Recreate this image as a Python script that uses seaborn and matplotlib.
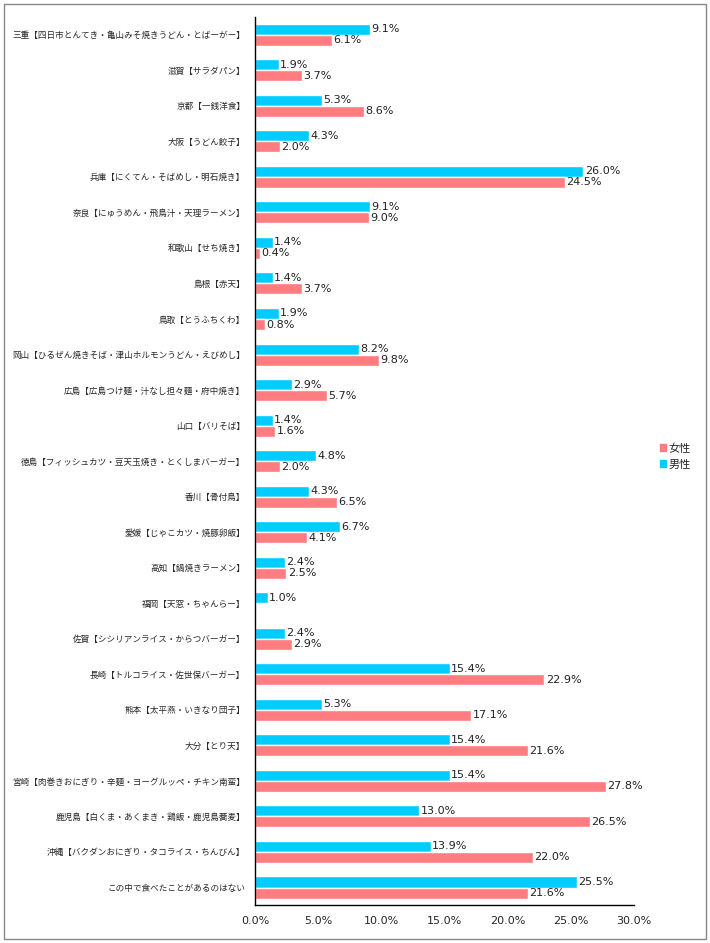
import matplotlib
matplotlib.use("Agg")
import matplotlib.pyplot as plt
from matplotlib.patches import Rectangle, Patch
import seaborn as sns
import pandas as pd

categories = [
    "三重【四日市とんてき・亀山みそ焼きうどん・とばーがー】",
    "滋賀【サラダパン】",
    "京都【一銭洋食】",
    "大阪【うどん餃子】",
    "兵庫【にくてん・そばめし・明石焼き】",
    "奈良【にゅうめん・飛鳥汁・天理ラーメン】",
    "和歌山【せち焼き】",
    "島根【赤天】",
    "鳥取【とうふちくわ】",
    "岡山【ひるぜん焼きそば・津山ホルモンうどん・えびめし】",
    "広島【広島つけ麺・汁なし担々麺・府中焼き】",
    "山口【バリそば】",
    "徳島【フィッシュカツ・豆天玉焼き・とくしまバーガー】",
    "香川【骨付鳥】",
    "愛媛【じゃこカツ・焼豚卵飯】",
    "高知【鍋焼きラーメン】",
    "福岡【天窓・ちゃんらー】",
    "佐賀【シシリアンライス・からつバーガー】",
    "長崎【トルコライス・佐世保バーガー】",
    "熊本【太平燕・いきなり団子】",
    "大分【とり天】",
    "宮崎【肉巻きおにぎり・辛麺・ヨーグルッペ・チキン南蛮】",
    "鹿児島【白くま・あくまき・鶏飯・鹿児島蕎麦】",
    "沖縄【バクダンおにぎり・タコライス・ちんびん】",
    "この中で食べたことがあるのはない",
]
male = [9.1, 1.9, 5.3, 4.3, 26.0, 9.1, 1.4, 1.4, 1.9, 8.2, 2.9, 1.4, 4.8,
        4.3, 6.7, 2.4, 1.0, 2.4, 15.4, 5.3, 15.4, 15.4, 13.0, 13.9, 25.5]
female = [6.1, 3.7, 8.6, 2.0, 24.5, 9.0, 0.4, 3.7, 0.8, 9.8, 5.7, 1.6, 2.0,
          6.5, 4.1, 2.5, 0.0, 2.9, 22.9, 17.1, 21.6, 27.8, 26.5, 22.0, 21.6]
series = ["男性", "女性"]
colors = {"男性": "#00CCFF", "女性": "#FF7C80"}

df = pd.DataFrame({
    "item": categories * 2,
    "value": male + female,
    "sex": ["男性"] * len(categories) + ["女性"] * len(categories),
})

sns.set_style("white")
plt.rcParams["font.family"] = ["DejaVu Sans", "Noto Sans CJK JP"]

fig = plt.figure(figsize=(7.10, 9.43), dpi=100)
ax = fig.add_axes([0.359, 0.040, 0.534, 0.942])

sns.barplot(data=df, y="item", x="value", hue="sex", hue_order=series,
            order=categories, palette=colors, orient="h", width=0.62,
            ax=ax, legend=False, saturation=1)

for cont in ax.containers:
    labels = [f"{v:.1f}%" if v > 0 else "" for v in cont.datavalues]
    ax.bar_label(cont, labels=labels, padding=1, fontsize=8, color="#222222")

ax.set_xlim(0, 30)
ax.set_xticks(range(0, 31, 5))
ax.set_xticklabels([f"{t:.1f}%" for t in range(0, 31, 5)], fontsize=8)
ax.tick_params(axis="y", length=0, pad=7)
for lbl in ax.get_yticklabels():
    lbl.set_family(["Noto Sans CJK JP", "DejaVu Sans"])
    lbl.set_fontsize(6.2)
ax.tick_params(axis="x", length=0, pad=8)
ax.set_xlabel("")
ax.set_ylabel("")
ax.set_ylim(len(categories) - 0.5, -0.5)
sns.despine(ax=ax)
for s in ["left", "bottom"]:
    ax.spines[s].set_color("black")
    ax.spines[s].set_linewidth(1)

handles = [Patch(color=colors["女性"], label="女性"),
           Patch(color=colors["男性"], label="男性")]
leg = fig.legend(handles=handles, loc="center left", bbox_to_anchor=(0.915, 0.516),
                 frameon=False, fontsize=8, handlelength=0.6, handleheight=0.6,
                 handletextpad=0.2, labelspacing=0.5)
for t in leg.get_texts():
    t.set_family(["Noto Sans CJK JP", "DejaVu Sans"])

fig.patches.append(Rectangle((0.005, 0.004), 0.99, 0.992, transform=fig.transFigure,
                             fill=False, edgecolor="#888888", linewidth=1))

fig.savefig("out.png", dpi=100)
